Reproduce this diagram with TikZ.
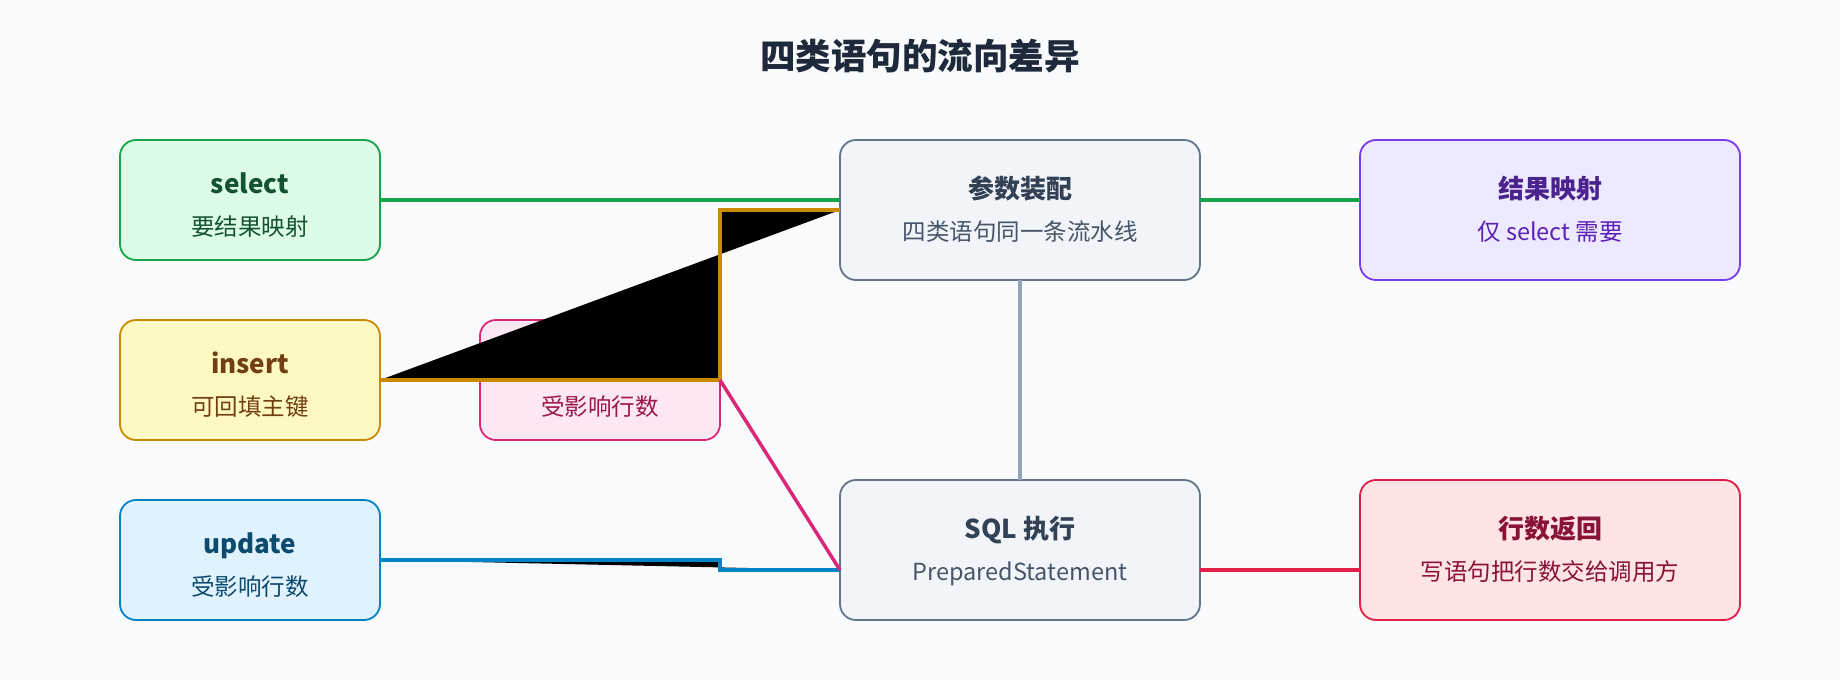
\documentclass[tikz,border=0pt]{standalone}
\usepackage{fontspec}
\setmainfont{Noto Sans CJK SC}
\usepackage{xcolor}
\usetikzlibrary{positioning}
\definecolor{bgc}{HTML}{F8FAFC}
\definecolor{titc}{HTML}{1E293B}
\definecolor{selc}{HTML}{16A34A}
\definecolor{self}{HTML}{DCFCE7}
\definecolor{selt}{HTML}{14532D}
\definecolor{insc}{HTML}{CA8A04}
\definecolor{insf}{HTML}{FEF9C3}
\definecolor{inst}{HTML}{713F12}
\definecolor{updc}{HTML}{0284C7}
\definecolor{updf}{HTML}{E0F2FE}
\definecolor{updt}{HTML}{0C4A6E}
\definecolor{delc}{HTML}{DB2777}
\definecolor{delf}{HTML}{FCE7F3}
\definecolor{delt}{HTML}{9D174D}
\definecolor{stgc}{HTML}{64748B}
\definecolor{stgf}{HTML}{F1F5F9}
\definecolor{stgt}{HTML}{334155}
\definecolor{stgs}{HTML}{475569}
\definecolor{pipec}{HTML}{94A3B8}
\definecolor{resc}{HTML}{7C3AED}
\definecolor{resf}{HTML}{EDE9FE}
\definecolor{rest}{HTML}{5B21B6}
\definecolor{retc}{HTML}{E11D48}
\definecolor{retf}{HTML}{FFE4E6}
\definecolor{rett}{HTML}{881337}
\tikzset{%
	stmt/.style     = {draw, rectangle, rounded corners=16pt, line width=1.8pt, outer sep=0pt, minimum width=260pt, minimum height=120pt}, % statement
	stage/.style    = {stmt, draw=stgc, fill=stgf, minimum width=360pt, minimum height=140pt}, % pipeline stage
	outcome/.style  = {stmt, minimum width=380pt, minimum height=140pt}, % result
	ttl/.style      = {anchor=base, inner sep=0pt, font=\fontsize{26}{30}\selectfont\bfseries},
	subtxt/.style   = {anchor=base, inner sep=0pt, font=\fontsize{23.5}{28}\selectfont},
	link/.style     = {line width=3.5pt},
}

\begin{document}
\begin{tikzpicture}[x=1pt, y=-1pt, node distance = 60pt]
	\fill[bgc] (0,0) rectangle (1840,680);
	\node[text=titc, font=\fontsize{35.5}{40}\selectfont\bfseries] (title) at (920,56) {四类语句的流向差异};
	
	\node[stmt, draw=selc, fill=self] (sel) at (250,200) {};
	\node[stmt, draw=insc, fill=insf, below=of sel] (ins) {};
	\node[stmt, draw=updc, fill=updf, below=of ins] (upd) {};
	\node[stmt, draw=delc, fill=delf, minimum width=240pt, right=100pt of ins] (del) {};
	\node[stage] (pa) at (1020,210) {};
	\node[stage, below=200pt of pa] (sql) {};
	\node[outcome, draw=resc, fill=resf, right=160pt of pa] (res) {};
	\node[outcome, draw=retc, fill=retf, right=160pt of sql] (ret) {};
	
	\node[ttl, text=selt] (selT) at ([yshift=-53pt]sel.north) {select};
	\node[subtxt, text=selt] (selS) at ([yshift=-95pt]sel.north) {要结果映射};
	\node[ttl, text=inst] (insT) at ([yshift=-53pt]ins.north) {insert};
	\node[subtxt, text=inst] (insS) at ([yshift=-95pt]ins.north) {可回填主键};
	\node[ttl, text=updt] (updT) at ([yshift=-53pt]upd.north) {update};
	\node[subtxt, text=updt] (updS) at ([yshift=-95pt]upd.north) {受影响行数};
	\node[subtxt, text=delt] (delS) at ([yshift=-95pt]del.north) {受影响行数};
	\node[ttl, text=stgt] (paT) at ([yshift=-58pt]pa.north) {参数装配};
	\node[subtxt, text=stgs] (paS) at ([yshift=-100pt]pa.north) {四类语句同一条流水线};
	\node[ttl, text=stgt] (sqlT) at ([yshift=-58pt]sql.north) {SQL 执行};
	\node[subtxt, text=stgs] (sqlS) at ([yshift=-100pt]sql.north) {PreparedStatement};
	\node[ttl, text=resc!60!black] (resT) at ([yshift=-58pt]res.north) {结果映射};
	\node[subtxt, text=rest] (resS) at ([yshift=-100pt]res.north) {仅 select 需要};
	\node[ttl, text=rett] (retT) at ([yshift=-58pt]ret.north) {行数返回};
	\node[subtxt, text=rett] (retS) at ([yshift=-100pt]ret.north) {写语句把行数交给调用方};
	
	\draw[link, draw=selc] (sel.east) -- (sel.east -| pa.west);
	\draw[link, draw=insc, fill=black] (ins.east) -- (del.east) |- ([yshift=-70pt]pa.north west);
	\draw[link, draw=updc, fill=black] (upd.east) -- (upd.east -| del.east) |- ([yshift=-90pt]sql.north west);
	\draw[link, draw=delc] (del.east) -- ([yshift=-90pt]sql.north west);
	\draw[link, draw=pipec] (pa.south) -- (sql.north);
	\draw[link, draw=selc] ([yshift=-60pt]pa.north east) -- ([yshift=-60pt]res.north west);
	\draw[link, draw=retc] ([yshift=-90pt]sql.north east) -- ([yshift=-90pt]ret.north west);
\end{tikzpicture}
\end{document}
